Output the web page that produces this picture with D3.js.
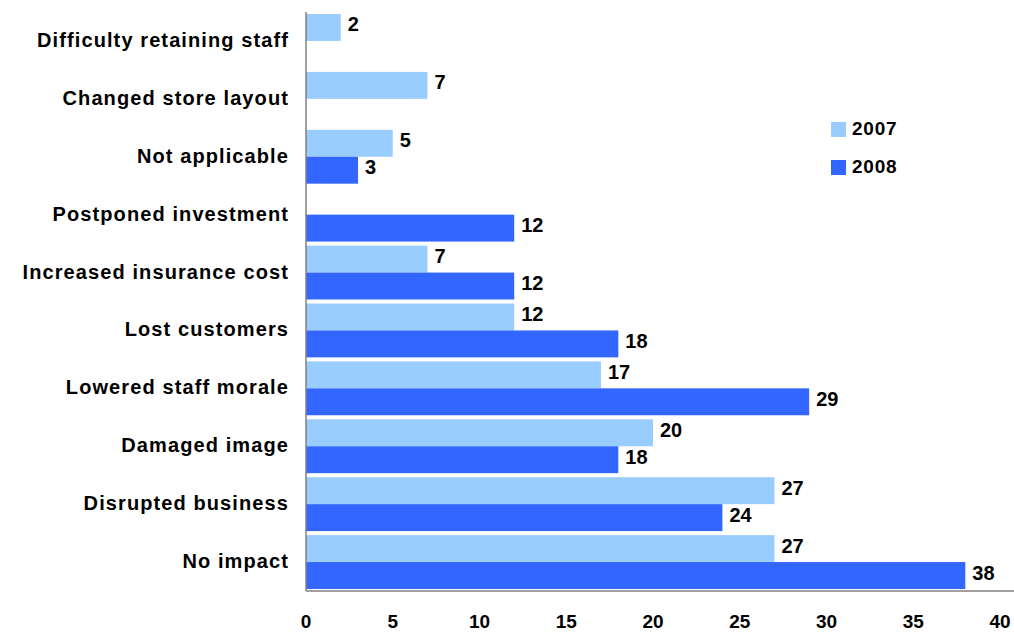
<!DOCTYPE html>
<html>
<head>
<meta charset="utf-8">
<script src="https://cdn.jsdelivr.net/npm/d3@7"></script>
<style>
  body { margin: 0; background: #fff; }
  text { font-family: Arial, "Liberation Sans", sans-serif; font-weight: bold; fill: #000; }
</style>
</head>
<body>
<div id="chart"></div>
<script>
// categories, top to bottom
const categories = [
  "Difficulty retaining staff",
  "Changed store layout",
  "Not applicable",
  "Postponed investment",
  "Increased insurance cost",
  "Lost customers",
  "Lowered staff morale",
  "Damaged image",
  "Disrupted business",
  "No impact"
];
const series = ["2007", "2008"];
// null = no bar for that year
const values2007 = [2, 7, 5, null, 7, 12, 17, 20, 27, 27];
const values2008 = [null, null, 3, 12, 12, 18, 29, 18, 24, 38];
const xTicks = [0, 5, 10, 15, 20, 25, 30, 35, 40];
const colors = { "2007": "#99ccff", "2008": "#3366ff" };

const width = 1014, height = 633;
const margin = { top: 12, right: 14, bottom: 42, left: 306 };

const svg = d3.select("#chart").append("svg")
  .attr("width", width)
  .attr("height", height);

const x = d3.scaleLinear()
  .domain([0, 40])
  .range([margin.left, width - margin.right]);

const y = d3.scaleBand()
  .domain(categories)
  .range([margin.top, height - margin.bottom])
  .paddingInner(0.07)
  .paddingOuter(0.035);

const ySub = d3.scaleBand()
  .domain(series)
  .range([0, y.bandwidth()]);

const data = [];
categories.forEach((c, i) => {
  if (values2007[i] != null) data.push({ cat: c, year: "2007", v: values2007[i] });
  if (values2008[i] != null) data.push({ cat: c, year: "2008", v: values2008[i] });
});

// bars
svg.append("g").selectAll("rect")
  .data(data)
  .enter().append("rect")
  .attr("x", x(0))
  .attr("y", d => y(d.cat) + ySub(d.year))
  .attr("width", d => x(d.v) - x(0))
  .attr("height", ySub.bandwidth())
  .attr("fill", d => colors[d.year]);

// value labels
svg.append("g").selectAll("text")
  .data(data)
  .enter().append("text")
  .attr("x", d => x(d.v) + 7)
  .attr("y", d => y(d.cat) + ySub(d.year) + ySub.bandwidth() / 2 - 3)
  .attr("dy", "0.35em")
  .style("font-size", "20px")
  .text(d => d.v);

// category labels
svg.append("g").selectAll("text")
  .data(categories)
  .enter().append("text")
  .attr("x", margin.left - 17)
  .attr("y", d => y(d) + y.bandwidth() / 2 - 1)
  .attr("dy", "0.35em")
  .attr("text-anchor", "end")
  .style("font-size", "20px")
  .style("letter-spacing", "1.1px")
  .text(d => d);

// axes lines
const yBottom = height - margin.bottom;
svg.append("line")
  .attr("x1", x(0)).attr("x2", x(0))
  .attr("y1", margin.top).attr("y2", yBottom)
  .attr("stroke", "#808080").attr("stroke-width", 1.5);
svg.append("line")
  .attr("x1", x(0)).attr("x2", width)
  .attr("y1", yBottom).attr("y2", yBottom)
  .attr("stroke", "#808080").attr("stroke-width", 1.5);

// x tick labels
svg.append("g").selectAll("text")
  .data(xTicks)
  .enter().append("text")
  .attr("x", d => x(d))
  .attr("y", 628)
  .attr("text-anchor", "middle")
  .style("font-size", "19px")
  .text(d => d);

// legend
const legend = svg.append("g").attr("transform", "translate(831,122)");
series.forEach((s, i) => {
  const g = legend.append("g").attr("transform", `translate(0,${i * 38})`);
  g.append("rect").attr("width", 15).attr("height", 15).attr("fill", colors[s]);
  g.append("text").attr("x", 21).attr("y", 12.5)
    .style("font-size", "19px").style("letter-spacing", "0.8px").text(s);
});
</script>
</body>
</html>
